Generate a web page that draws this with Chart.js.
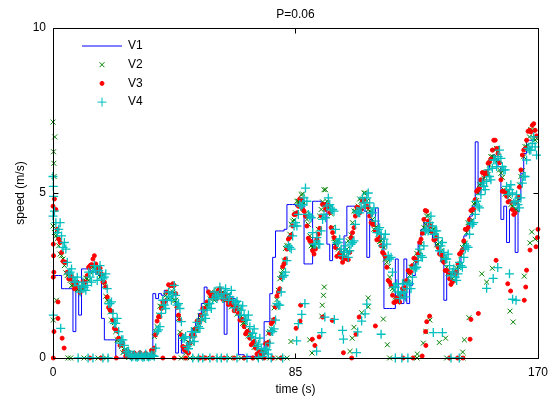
<!DOCTYPE html>
<html><head><meta charset="utf-8">
<script src="https://cdn.jsdelivr.net/npm/chart.js@4/dist/chart.umd.min.js"></script>
<style>html,body{margin:0;padding:0;background:#fff}#wrap{width:555px;height:397px}</style>
</head><body><div id="wrap"><canvas id="c" width="555" height="397"></canvas></div>
<script>
const TITLE = 'P=0.06';
const X_LABEL = 'time (s)';
const Y_LABEL = 'speed (m/s)';
const X_TICKS = [0, 85, 170];
const Y_TICKS = [0, 5, 10];
const NAMES = ['V1', 'V2', 'V3', 'V4'];

// whole-second sample times
const T = [0,1,2,3,4,5,6,7,8,9,10,11,12,13,14,15,16,17,18,19,20,21,22,23,24,25,26,27,28,29,
30,31,32,33,34,35,36,37,38,39,40,41,42,43,44,45,46,47,48,49,50,51,52,53,54,55,56,57,58,59,
60,61,62,63,64,65,66,67,68,69,70,71,72,73,74,75,76,77,78,79,80,81,82,83,84,85,86,87,88,89,
90,91,92,93,94,95,96,97,98,99,100,101,102,103,104,105,106,107,108,109,110,111,112,113,114,115,116,117,118,119,
120,121,122,123,124,125,126,127,128,129,130,131,132,133,134,135,136,137,138,139,140,141,142,143,144,145,146,147,148,149,
150,151,152,153,154,155,156,157,158,159,160,161,162,163,164,165,166,167,168,169];
// half-second sample times
const TH = [0.5,1.5,2.5,3.5,4.5,5.5,6.5,7.5,8.5,9.5,10.5,11.5,12.5,13.5,14.5,15.5,16.5,17.5,18.5,19.5,
20.5,21.5,22.5,23.5,24.5,25.5,26.5,27.5,28.5,29.5,30.5,31.5,32.5,33.5,34.5,35.5,36.5,37.5,38.5,39.5,
40.5,41.5,42.5,43.5,44.5,45.5,46.5,47.5,48.5,49.5,50.5,51.5,52.5,53.5,54.5,55.5,56.5,57.5,58.5,59.5,
60.5,61.5,62.5,63.5,64.5,65.5,66.5,67.5,68.5,69.5,70.5,71.5,72.5,73.5,74.5,75.5,76.5,77.5,78.5,79.5,
80.5,81.5,82.5,83.5,84.5,85.5,86.5,87.5,88.5,89.5,90.5,91.5,92.5,93.5,94.5,95.5,96.5,97.5,98.5,99.5,
100.5,101.5,102.5,103.5,104.5,105.5,106.5,107.5,108.5,109.5,110.5,111.5,112.5,113.5,114.5,115.5,116.5,117.5,118.5,119.5,
120.5,121.5,122.5,123.5,124.5,125.5,126.5,127.5,128.5,129.5,130.5,131.5,132.5,133.5,134.5,135.5,136.5,137.5,138.5,139.5,
140.5,141.5,142.5,143.5,144.5,145.5,146.5,147.5,148.5,149.5,150.5,151.5,152.5,153.5,154.5,155.5,156.5,157.5,158.5,159.5,
160.5,161.5,162.5,163.5,164.5,165.5,166.5,167.5,168.5,169.5];

const V1 = [2.5,2.5,2.5,2.5,2.1,2.1,2.1,2.1,0.8,2.1,
1.3,2.7,2.7,2.7,2.6,2.6,2.55,2.5,1.2,0.55,
0.55,0.55,0.55,0,0,0,0,0,0,0,
0,0,0,0,0,0,1.95,1.8,1.95,1.9,
2.05,2.0,2.0,1.95,0.15,0.7,0.15,0.3,0.5,0.75,
0.9,1.1,1.35,1.65,2.15,2.0,1.95,2.0,2.0,1.95,
2.0,0.72,1.95,1.85,1.8,1.73,0.1,0.1,0.05,0.05,
0.05,0.05,0.05,0.05,0.05,1.1,1.1,1.95,3.05,3.85,
3.85,3.85,3.9,4.65,4.65,4.65,4.6,4.75,4.8,2.85,
2.85,2.85,4.75,4.75,4.75,4.7,4.7,3.45,2.95,3.45,
3.3,3.3,3.2,3.7,4.6,4.6,4.6,4.55,4.5,4.5,
4.45,3.05,4.2,4.0,4.55,3.8,3.6,1.5,1.5,1.5,
1.5,3.0,1.65,1.65,3.0,1.65,2.2,2.5,2.9,3.45,
3.9,4.1,4.0,3.8,3.6,3.4,3.15,2.9,1.75,2.6,
2.5,2.5,2.6,2.9,3.3,3.7,4.0,4.3,4.6,6.55,
5.0,5.3,5.5,5.7,6.0,6.15,6.0,5.8,4.2,4.6,
3.5,4.5,4.5,3.2,4.8,5.6,6.2,6.6,6.6,6.6];

const V2 = [4.0,3.7,3.4,3.1,2.8,2.5,2.35,2.2,2.15,2.1,
2.1,2.2,2.4,2.6,2.75,2.7,2.6,2.5,2.2,1.75,
1.4,1.1,0.8,0.55,0.35,0.2,0.08,0.04,0.03,0.05,
0.04,0.03,0.05,0.04,0.06,0.2,0.8,1.3,1.55,1.75,
1.85,1.95,2.0,1.75,1.2,0.65,0.3,0.25,0.45,0.65,
0.85,1.05,1.25,1.4,1.6,1.8,1.85,1.9,2.0,1.95,
1.9,1.8,1.75,1.65,1.55,1.4,1.25,1.05,0.85,0.65,
0.5,0.35,0.2,0.1,0.2,0.45,0.8,1.15,1.6,2.05,
2.55,2.95,3.4,3.75,4.15,4.4,4.75,4.95,4.7,4.2,
3.7,3.35,3.4,3.9,4.5,5.1,4.75,4.55,3.95,3.5,
3.3,3.15,3.15,3.3,3.6,4.1,4.45,4.6,4.75,5.0,
4.75,4.45,4.2,3.95,3.75,3.55,3.35,2.9,2.45,2.1,
1.85,1.8,1.95,2.05,2.3,2.5,2.75,2.95,3.1,3.45,
3.95,4.3,4.05,3.9,3.7,3.45,3.25,3.0,2.75,2.55,
2.4,2.5,2.75,3.1,3.45,3.8,4.1,4.4,4.7,5.0,
5.3,5.45,5.55,5.85,6.1,6.3,6.0,5.6,5.1,5.0,
4.9,4.6,4.5,4.8,5.5,6.1,6.4,6.7,6.9,6.6];
const V2H = [3.8,3.62,3.15,3.0,2.58,2.55,2.2,2.27,2.07,2.15,
2.1,2.42,2.35,2.8,2.68,2.75,2.45,2.52,1.87,1.7,
1.15,1.07,0.55,0.55,0.16,0.27,0.02,0.1,0.02,0.1,
0.02,0.1,0.02,0.1,0.03,0.65,0.95,1.57,1.57,1.9,
1.8,2.17,1.75,1.6,0.78,0.6,0.15,0.47,0.47,0.85,
0.85,1.27,1.15,1.6,1.58,2.0,1.75,2.07,1.87,2.0,
1.75,1.92,1.55,1.7,1.33,1.5,1.05,1.07,0.67,0.68,
0.32,0.4,0.03,0.22,0.18,0.75,0.88,1.52,1.77,2.4,
2.65,3.32,3.4,4.05,4.18,4.75,4.75,4.97,4.37,4.05,
3.4,3.42,3.5,4.3,4.73,5.1,4.55,4.37,3.62,3.5,
3.1,3.22,3.1,3.55,3.73,4.45,4.4,4.82,4.82,5.0,
4.5,4.42,3.9,3.95,3.53,3.6,3.0,2.77,2.17,2.05,
1.7,1.97,1.85,2.3,2.28,2.75,2.75,3.17,3.22,3.8,
4.05,4.32,3.85,3.9,3.43,3.5,3.0,2.97,2.57,2.55,
2.35,2.72,2.8,3.35,3.48,4.1,4.15,4.67,4.77,5.25,
5.3,5.62,5.55,6.1,6.08,6.35,5.7,5.47,4.97,5.05,
4.65,4.67,4.5,5.25,5.68,6.4,6.45,6.92,6.67,6.65];

const V3 = [4.6,4.5,3.6,3.2,2.9,2.6,2.4,2.3,2.2,2.15,
2.15,2.3,2.5,2.8,3.0,2.85,2.7,2.55,2.3,1.85,
1.45,1.15,0.85,0.6,0.4,0.2,0.1,0.05,0.04,0.03,
0.05,0.04,0.03,0.05,0.04,0.15,0.7,1.25,1.5,1.7,
2.0,2.2,2.25,1.95,1.3,0.7,0.25,0.2,0.45,0.7,
0.9,1.1,1.3,1.5,1.7,1.95,1.9,1.85,2.05,1.95,
1.85,1.75,1.7,1.6,1.5,1.35,1.15,0.95,0.8,0.6,
0.45,0.3,0.15,0.08,0.15,0.4,0.75,1.1,1.55,2.0,
2.45,2.85,3.3,3.65,4.0,4.35,4.6,4.8,4.45,4.0,
3.55,3.25,3.3,3.75,4.3,4.65,4.55,4.4,3.8,3.35,
3.1,3.05,3.0,3.0,3.2,3.8,4.3,4.55,4.5,4.8,
4.6,4.3,4.05,3.85,3.6,3.4,3.15,2.75,2.3,1.9,
1.7,1.75,1.9,2.1,2.35,2.6,2.8,3.0,3.15,3.6,
4.2,4.45,4.0,3.8,3.6,3.35,3.15,2.9,2.65,2.4,
2.3,2.55,2.85,3.2,3.55,3.9,4.2,4.5,4.8,5.1,
5.4,5.6,5.65,5.95,6.3,6.6,6.2,5.4,5.05,4.9,
4.75,4.5,4.4,4.9,5.7,6.3,6.6,6.9,7.05,6.9];
const V3H = [4.82,3.9,3.5,2.93,2.9,2.4,2.47,2.1,2.3,1.98,
2.32,2.3,2.75,2.83,3.1,2.65,2.72,2.3,2.15,1.53,
1.42,0.9,0.82,0.38,0.45,0.05,0.19,0.02,0.15,0.02,
0.16,0.02,0.14,0.02,0.23,0.3,1.12,1.25,1.7,1.73,
2.22,2.2,2.2,1.53,1.15,0.35,0.32,0.15,0.68,0.68,
1.12,1.1,1.5,1.48,2.0,1.85,1.97,1.8,2.1,1.78,
1.92,1.62,1.75,1.43,1.57,1.15,1.17,0.73,0.8,0.4,
0.5,0.12,0.2,0.02,0.43,0.48,1.04,1.17,1.88,2.1,
2.77,3.0,3.6,3.73,4.35,4.4,4.82,4.5,4.3,3.63,
3.52,3.15,3.6,3.93,4.65,4.5,4.62,3.95,3.65,3.08,
3.17,2.9,3.05,2.98,3.65,3.95,4.57,4.4,4.75,4.58,
4.57,4.1,4.05,3.58,3.65,3.2,3.07,2.35,2.2,1.68,
1.82,1.7,2.1,2.13,2.65,2.6,3.02,2.95,3.5,3.78,
4.47,4.15,4.0,3.58,3.65,3.15,3.12,2.65,2.6,2.23,
2.57,2.6,3.15,3.28,3.9,3.95,4.47,4.5,5.05,5.13,
5.62,5.55,5.9,6.03,6.6,6.35,5.92,5.05,5.05,4.73,
4.72,4.35,4.7,5.18,6.15,6.35,6.87,6.85,7.1,6.73];

const V4 = [4.3,4.1,3.9,3.7,3.5,2.9,2.6,2.45,2.3,2.2,
2.15,2.15,2.2,2.45,2.6,2.65,2.65,2.55,2.45,2.1,
1.65,1.35,1.05,0.8,0.55,0.38,0.2,0.08,0.05,0.04,
0.05,0.06,0.04,0.05,0.05,0.08,0.3,0.85,1.35,1.6,
1.75,1.85,1.95,1.9,1.65,1.1,0.6,0.35,0.45,0.64,
0.78,0.95,1.15,1.3,1.45,1.65,1.8,1.85,1.9,1.95,
1.95,1.95,1.85,1.75,1.68,1.6,1.45,1.3,1.15,0.95,
0.75,0.6,0.42,0.28,0.17,0.25,0.45,0.8,1.15,1.6,
2.0,2.5,2.95,3.35,3.7,4.1,4.35,4.6,4.85,4.75,
4.3,3.8,3.45,3.45,3.85,4.35,4.6,4.65,4.5,3.9,
3.5,3.3,3.2,3.2,3.25,3.5,4.05,4.4,4.55,4.7,
4.85,4.7,4.4,4.15,3.9,3.75,3.6,3.45,3.0,2.6,
2.15,2.0,1.95,2.0,2.1,2.25,2.45,2.7,2.95,3.1,
3.4,3.9,4.1,4.0,3.85,3.65,3.4,3.2,3.0,2.8,
2.6,2.45,2.55,2.8,3.05,3.4,3.75,4.05,4.35,4.6,
4.95,5.2,5.35,5.5,5.75,6.0,6.1,6.05,5.7,5.2,
5.1,5.0,4.75,4.65,4.85,5.5,6.0,6.3,6.5,6.4];
const V4H = [4.45,3.8,4.1,3.35,3.3,2.55,2.7,2.3,2.45,2.0,
2.3,2.05,2.6,2.3,2.8,2.35,2.8,2.4,2.55,1.65,
1.7,1.05,1.2,0.45,0.55,0.15,0.2,0.03,0.1,0.02,
0.1,0.02,0.12,0.03,0.09,0.05,0.8,0.95,1.75,1.5,
2.0,1.75,2.2,1.6,1.5,0.6,0.65,0.28,0.8,0.5,
1.08,0.9,1.45,1.2,1.65,1.5,2.0,1.8,2.15,1.8,
2.1,1.75,2.05,1.52,1.72,1.3,1.58,1.15,1.3,0.65,
0.88,0.35,0.6,0.05,0.3,0.12,0.82,0.88,1.65,1.6,
2.45,2.6,3.4,3.3,4.0,4.0,4.65,4.65,5.15,4.35,
4.25,3.45,3.65,3.45,4.2,4.25,4.85,4.5,4.45,3.5,
3.6,3.1,3.4,3.05,3.45,3.55,4.45,4.4,4.85,4.6,
5.0,4.4,4.55,3.8,3.95,3.4,3.75,3.1,3.05,2.15,
2.25,1.8,2.25,1.85,2.3,2.1,2.75,2.75,3.3,3.05,
3.85,3.85,4.3,3.75,3.85,3.25,3.5,3.0,3.15,2.5,
2.7,2.35,2.9,2.75,3.3,3.35,4.1,4.1,4.75,4.55,
5.3,5.1,5.7,5.4,6.0,5.8,6.3,5.8,5.7,4.95,
5.25,4.7,4.95,4.55,5.3,5.5,6.35,6.3,6.7,6.15];

// stray samples [time, speed]
const V2_STRAY = [[0.0,7.15],[0.6,6.7],[0.2,6.25],[0.3,5.9],[0.4,5.5],[1.2,1.75],[0.1,1.15],
[95.1,2.15],[94.8,1.9],[94.4,1.6],[94.2,1.27],[90,0.55],[83.4,0.5],[90.8,0.15],
[108.2,1.37],[110.5,1.82],[110.5,1.55],[115.8,1.18],[105.5,0.93],[104.9,0.6],[117.2,0.4],[104.1,0.2],[127.7,0.12],
[132.1,1.15],[130.7,0.8],[129.8,0.45],[137.6,0.6],[135.4,0.47],[144.2,0.55],[143.6,0.18],[145.8,1.22],
[150.3,2.55],[154,2.72],[152,2.3],[165.2,2.48],[160.2,1.42],[161.3,1.09],
[167.8,3.82],[167.2,3.49],[169,3.6]];
const V3_STRAY = [[0.1,3.45],[0.2,3.1],[0.3,2.6],[0.1,2.45],[1.75,1.7],[1.75,1.2],[0.35,0.8],[3.2,0.6],[3.9,0.3],
[86.8,1.6],[86.6,1.12],[85.2,0.9],[90.9,0.57],[91.8,0.38],[93.3,0.64],[94.5,1.24],[97.9,1.14],
[107.3,1.24],[106.2,0.72],[113,0.97],[101.8,0.16],
[131,1.1],[132,1.27],[130.6,0.8],[130.7,0.38],[129.4,0.06],
[149.1,1.35],[146.5,1.17],[146.2,0.57],[155.3,2.96],[159.4,2.25],[160.4,2.03],[166,2.66],[165.7,2.15],[165.2,1.75],
[167.2,3.27],[169.3,3.37],[169.8,3.65],[170,3.9]];
const V4_STRAY = [[0,5.5],[0.1,5.2],[0.2,4.9],[0.1,1.3],[2.7,0.9],
[88.3,1.65],[87.2,1.32],[86,1.04],[85.4,0.52],[92.4,0.21],[95.3,1.24],[94.2,0.77],[98.6,1.17],[101.5,0.84],[101.8,0.57],[106.8,0.79],[106.4,0.16],
[110,1.63],[109.4,1.34],[108.2,1.12],[115,0.72],[136.5,0.77],[133.3,0.77],
[152,2.11],[154.3,2.41],[155.9,2.74],[160,2.55],[161.1,1.78],[162.3,1.75]];

// times of dropout samples (speed 0)
const V2_DROP = [5.3,6.2,10.9,15.8,18.7,45,48,50,52,54,58,62,66,71,76,79,82,118,127.6,138,143.7];
const V3_DROP = [0.1,12.9,16.9,22.2,38.5,42.5,46.5,51.5,53.5,56,60,63.5,67,70,74,77,80,104.7,122.7,126.2,139,141.8,143.7];
const V4_DROP = [8.8,12.3,14,17.5,19.3,49,51,52.5,55,57.5,59,61,64.5,68,72,76.5,80.5,120,122.3,124.4,139.5,142.4];

const COLORS = ['#0000ff', '#008000', '#ff0000', '#00bfbf'];
const FONT = 'Liberation Sans, Arial, Helvetica, sans-serif';

function series(vals, valsH, stray, drop) {
  return T.map((t, i) => ({x: t, y: vals[i]}))
    .concat(TH.map((t, i) => ({x: t, y: valsH[i]})))
    .concat(stray.map(p => ({x: p[0], y: p[1]})))
    .concat(drop.map(t => ({x: t, y: 0})));
}

function marker(ctx, style, x, y, r, color) {
  ctx.save();
  ctx.strokeStyle = color; ctx.fillStyle = color; ctx.lineWidth = 1;
  ctx.beginPath();
  if (style === 'cross') {
    ctx.moveTo(x - r, y); ctx.lineTo(x + r, y); ctx.moveTo(x, y - r); ctx.lineTo(x, y + r); ctx.stroke();
  } else if (style === 'crossRot') {
    const o = r * Math.SQRT1_2;
    ctx.moveTo(x - o, y - o); ctx.lineTo(x + o, y + o); ctx.moveTo(x - o, y + o); ctx.lineTo(x + o, y - o); ctx.stroke();
  } else if (style === 'circle') {
    ctx.arc(x, y, r, 0, Math.PI * 2); ctx.fill(); ctx.stroke();
  } else {
    ctx.moveTo(x - 20, y); ctx.lineTo(x + 20, y); ctx.stroke();
  }
  ctx.restore();
}

const boxPlugin = {
  id: 'box',
  afterDatasetsDraw(chart) {
    const {ctx, chartArea: a, scales: {x, y}} = chart;
    ctx.save();
    ctx.strokeStyle = '#000'; ctx.lineWidth = 1;
    const L = Math.round(a.left) + 0.5, R = Math.round(a.right) + 0.5, Tp = Math.round(a.top) + 0.5, B = Math.round(a.bottom) + 0.5;
    ctx.beginPath();
    ctx.rect(L, Tp, R - L, B - Tp);
    X_TICKS.forEach(v => { const px = Math.round(x.getPixelForValue(v)) + 0.5; ctx.moveTo(px, B); ctx.lineTo(px, B - 5); ctx.moveTo(px, Tp); ctx.lineTo(px, Tp + 5); });
    Y_TICKS.forEach(v => { const py = Math.round(y.getPixelForValue(v)) + 0.5; ctx.moveTo(L, py); ctx.lineTo(L + 5, py); ctx.moveTo(R, py); ctx.lineTo(R - 5, py); });
    ctx.stroke();
    ctx.restore();
  }
};

const legendPlugin = {
  id: 'innerLegend',
  afterDraw(chart) {
    const {ctx, chartArea: a} = chart;
    const cx = a.left + 49, tx = a.left + 75;
    ctx.save();
    ctx.font = '12px ' + FONT; ctx.fillStyle = '#000'; ctx.textBaseline = 'middle'; ctx.textAlign = 'left';
    chart.data.datasets.forEach((ds, i) => {
      const yy = a.top + 18 + i * 18.7;
      marker(ctx, ds.legendStyle, cx, yy, ds.legendRadius, COLORS[i]);
      ctx.fillText(ds.label, tx, yy);
    });
    ctx.restore();
  }
};

new Chart(document.getElementById('c'), {
  type: 'scatter',
  data: {
    datasets: [
      {label: NAMES[0], type: 'line', data: T.map((t, i) => ({x: t, y: V1[i]})), borderColor: COLORS[0], borderWidth: 1,
       pointRadius: 0, stepped: 'after', fill: false, order: 3, clip: false, legendStyle: 'line', legendRadius: 0},
      {label: NAMES[1], data: series(V2, V2H, V2_STRAY, V2_DROP), pointStyle: 'crossRot', pointRadius: 3.5, borderColor: COLORS[1],
       backgroundColor: COLORS[1], pointBorderWidth: 1, order: 2, clip: false, legendStyle: 'crossRot', legendRadius: 3.5},
      {label: NAMES[2], data: series(V3, V3H, V3_STRAY, V3_DROP), pointStyle: 'circle', pointRadius: 2, borderColor: COLORS[2],
       backgroundColor: COLORS[2], pointBorderWidth: 1, order: 1, clip: false, legendStyle: 'circle', legendRadius: 2},
      {label: NAMES[3], data: series(V4, V4H, V4_STRAY, V4_DROP), pointStyle: 'cross', pointRadius: 4.5, borderColor: COLORS[3],
       backgroundColor: COLORS[3], pointBorderWidth: 1.3, order: 0, clip: false, legendStyle: 'cross', legendRadius: 4.5}
    ]
  },
  options: {
    animation: false, responsive: false, devicePixelRatio: 1,
    layout: {padding: {left: 0, right: 17, top: 0, bottom: 0}},
    events: [],
    plugins: {
      legend: {display: false}, tooltip: {enabled: false},
      title: {display: true, text: TITLE, fullSize: false, color: '#000', font: {family: FONT, size: 12, weight: 'normal'}, padding: {top: 7, bottom: 6.6}}
    },
    scales: {
      x: {
        type: 'linear', min: 0, max: 170,
        afterBuildTicks: s => { s.ticks = X_TICKS.map(v => ({value: v})); },
        afterFit: s => { s.height = 39; },
        grid: {display: false, drawTicks: false}, border: {display: false},
        ticks: {padding: 7, color: '#000', autoSkip: false, maxRotation: 0, font: {family: FONT, size: 12}},
        title: {display: true, text: X_LABEL, color: '#000', padding: {top: 0, bottom: 0}, font: {family: FONT, size: 12}}
      },
      y: {
        type: 'linear', min: 0, max: 10,
        afterBuildTicks: s => { s.ticks = Y_TICKS.map(v => ({value: v})); },
        afterFit: s => { s.width = 53; },
        grid: {display: false, drawTicks: false}, border: {display: false},
        ticks: {padding: 7, color: '#000', font: {family: FONT, size: 12}},
        title: {display: true, text: Y_LABEL, color: '#000', padding: {top: 13, bottom: 0}, font: {family: FONT, size: 12}}
      }
    }
  },
  plugins: [boxPlugin, legendPlugin]
});
</script>
</body></html>
